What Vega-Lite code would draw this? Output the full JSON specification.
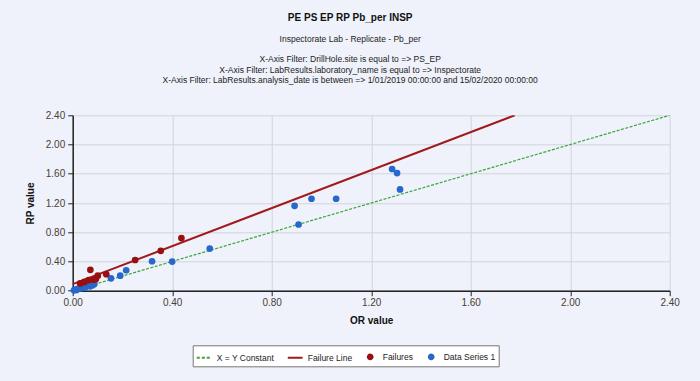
{
  "$schema": "https://vega.github.io/schema/vega-lite/v6.json",
  "autosize": "none",
  "width": 597,
  "height": 175.4,
  "padding": {"left": 72.7, "top": 115.3, "right": 30.3, "bottom": 90.3},
  "background": "#eff2fa",
  "title": {
    "text": "PE PS EP RP Pb_per INSP",
    "subtitle": ["Inspectorate Lab - Replicate - Pb_per", "\u200b", "X-Axis Filter: DrillHole.site is equal to => PS_EP", "X-Axis Filter: LabResults.laboratory_name is equal to => Inspectorate", "X-Axis Filter: LabResults.analysis_date is between => 1/01/2019 00:00:00 and 15/02/2020 00:00:00"],
    "anchor": "middle",
    "dx": -21,
    "offset": 26,
    "font": "Liberation Sans Narrow, Liberation Sans, sans-serif",
    "fontSize": 10,
    "fontWeight": "bold",
    "color": "#111111",
    "subtitleFont": "Liberation Sans Narrow, Liberation Sans, sans-serif",
    "subtitleFontSize": 8.5,
    "subtitleColor": "#222222",
    "subtitlePadding": 12,
    "subtitleLineHeight": 10.2
  },
  "config": {
    "view": {"stroke": null},
    "font": "Liberation Sans Narrow, Liberation Sans, sans-serif",
    "axis": {
      "labelFont": "Liberation Sans Narrow, Liberation Sans, sans-serif",
      "labelFontSize": 10,
      "labelColor": "#4a4038",
      "titleFont": "Liberation Sans, sans-serif",
      "titleFontSize": 10,
      "titleFontWeight": "bold",
      "titleColor": "#111111",
      "domainColor": "#222222",
      "domainWidth": 1.5,
      "tickColor": "#222222",
      "tickSize": 5,
      "gridColor": "#d2d4da",
      "gridWidth": 1
    },
    "legend": {
      "fillColor": "#ffffff",
      "strokeColor": "#777777",
      "padding": 3,
      "labelFont": "Liberation Sans Narrow, Liberation Sans, sans-serif",
      "labelFontSize": 8.5,
      "labelColor": "#222222"
    }
  },
  "datasets": {
    "lines": [
      {"series": "X = Y Constant", "x": 0, "y": 0},
      {"series": "X = Y Constant", "x": 2.4, "y": 2.4},
      {"series": "Failure Line", "x": 0, "y": 0.09},
      {"series": "Failure Line", "x": 1.777, "y": 2.4}
    ],
    "points": [
      {"series": "Data Series 1", "x": 1.284, "y": 1.665},
      {"series": "Data Series 1", "x": 1.304, "y": 1.61},
      {"series": "Data Series 1", "x": 1.316, "y": 1.386},
      {"series": "Data Series 1", "x": 1.059, "y": 1.258},
      {"series": "Data Series 1", "x": 0.96, "y": 1.258},
      {"series": "Data Series 1", "x": 0.892, "y": 1.162},
      {"series": "Data Series 1", "x": 0.908, "y": 0.906},
      {"series": "Data Series 1", "x": 0.551, "y": 0.576},
      {"series": "Data Series 1", "x": 0.4, "y": 0.398},
      {"series": "Data Series 1", "x": 0.319, "y": 0.403},
      {"series": "Data Series 1", "x": 0.215, "y": 0.28},
      {"series": "Data Series 1", "x": 0.191, "y": 0.206},
      {"series": "Data Series 1", "x": 0.154, "y": 0.17},
      {"series": "Data Series 1", "x": 0.087, "y": 0.092},
      {"series": "Data Series 1", "x": 0.08, "y": 0.075},
      {"series": "Data Series 1", "x": 0.005, "y": 0.005},
      {"series": "Data Series 1", "x": 0.01, "y": 0.015},
      {"series": "Data Series 1", "x": 0.015, "y": 0.01},
      {"series": "Data Series 1", "x": 0.02, "y": 0.025},
      {"series": "Data Series 1", "x": 0.03, "y": 0.03},
      {"series": "Data Series 1", "x": 0.035, "y": 0.04},
      {"series": "Data Series 1", "x": 0.045, "y": 0.05},
      {"series": "Data Series 1", "x": 0.05, "y": 0.045},
      {"series": "Data Series 1", "x": 0.06, "y": 0.07},
      {"series": "Data Series 1", "x": 0.07, "y": 0.06},
      {"series": "Failures", "x": 0.437, "y": 0.72},
      {"series": "Failures", "x": 0.354, "y": 0.545},
      {"series": "Failures", "x": 0.251, "y": 0.42},
      {"series": "Failures", "x": 0.135, "y": 0.225},
      {"series": "Failures", "x": 0.101, "y": 0.205},
      {"series": "Failures", "x": 0.093, "y": 0.16},
      {"series": "Failures", "x": 0.071, "y": 0.285},
      {"series": "Failures", "x": 0.064, "y": 0.145},
      {"series": "Failures", "x": 0.047, "y": 0.12},
      {"series": "Failures", "x": 0.03, "y": 0.1},
      {"series": "Failures", "x": 0.083, "y": 0.15}
    ]
  },
  "encoding": {
    "x": {
      "field": "x", "type": "quantitative",
      "scale": {"domain": [0, 2.4], "nice": false, "zero": false},
      "axis": {"values": [0, 0.4, 0.8, 1.2, 1.6, 2.0, 2.4], "format": ".2f", "title": "OR value", "labelPadding": 2, "titlePadding": 8, "labelFlush": false}
    },
    "y": {
      "field": "y", "type": "quantitative",
      "scale": {"domain": [0, 2.4], "nice": false, "zero": false},
      "axis": {"values": [0, 0.4, 0.8, 1.2, 1.6, 2.0, 2.4], "format": ".2f", "title": "RP value", "labelPadding": 3, "titlePadding": 10, "labelFlush": false}
    },
    "color": {
      "field": "series", "type": "nominal",
      "scale": {
        "domain": ["X = Y Constant", "Failure Line", "Failures", "Data Series 1"],
        "range": ["#3aa53a", "#a01a1a", "#990f0f", "#2668cc"]
      },
      "legend": {
        "title": null,
        "orient": "none",
        "legendX": 120,
        "legendY": 230,
        "direction": "horizontal",
        "columnPadding": 9,
        "symbolStrokeWidth": 2,
        "encode": {
          "symbols": {
            "update": {
              "shape": {"signal": "datum.value === 'Failures' || datum.value === 'Data Series 1' ? 'circle' : 'stroke'"},
              "size": {"signal": "datum.value === 'Failures' || datum.value === 'Data Series 1' ? 22 : 220"},
              "strokeDash": {"signal": "datum.value === 'X = Y Constant' ? [3, 2] : [1, 0]"},
              "fill": {"signal": "datum.value === 'Failures' ? '#990f0f' : datum.value === 'Data Series 1' ? '#2668cc' : 'transparent'"},
              "stroke": {"signal": "datum.value === 'X = Y Constant' ? '#3aa53a' : datum.value === 'Failure Line' ? '#a01a1a' : 'transparent'"},
              "strokeWidth": {"value": 2}
            }
          }
        }
      }
    }
  },
  "layer": [
    {
      "data": {"name": "lines"},
      "transform": [{"filter": "datum.series === 'X = Y Constant'"}],
      "mark": {"type": "line", "strokeWidth": 1.2, "strokeDash": [3, 1.5], "clip": true}
    },
    {
      "data": {"name": "lines"},
      "transform": [{"filter": "datum.series === 'Failure Line'"}],
      "mark": {"type": "line", "strokeWidth": 2, "clip": true}
    },
    {
      "data": {"name": "points"},
      "mark": {"type": "circle", "size": 45, "opacity": 1}
    }
  ]
}
